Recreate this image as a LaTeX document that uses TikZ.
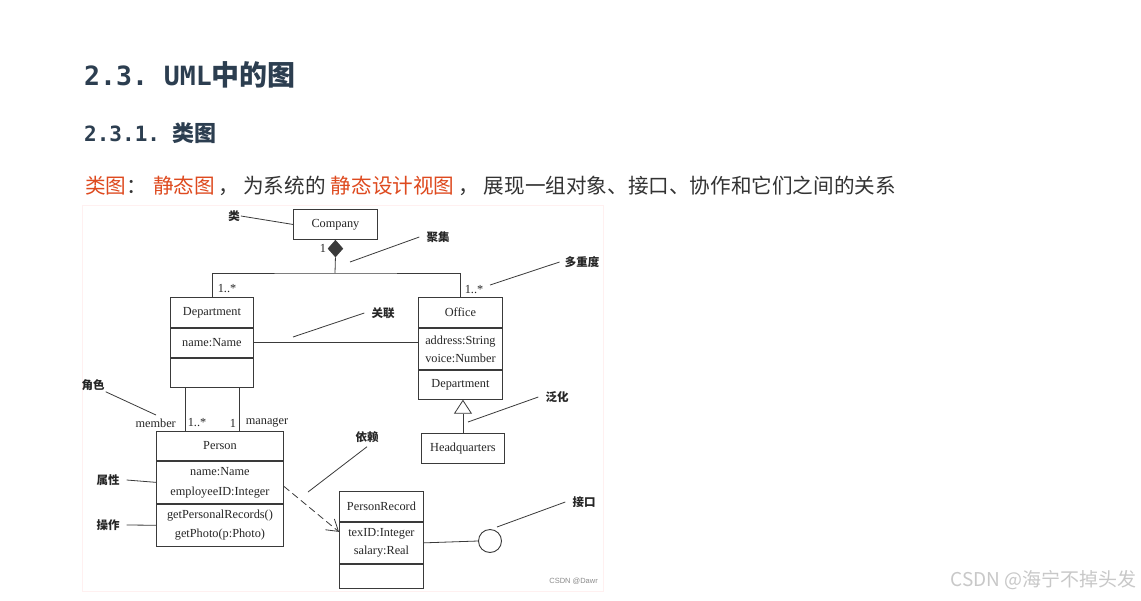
\documentclass[tikz,border=0pt]{standalone}
\usepackage{fontspec}
\setmainfont{Liberation Serif}
\newfontfamily\cjk{Noto Sans CJK SC}
\newfontfamily\hmono{DejaVu Sans Mono}
\newfontfamily\wsans{Liberation Sans}
\usetikzlibrary{arrows.meta, positioning, shapes.geometric}
\definecolor{headc}{HTML}{2C3E50}
\definecolor{redc}{HTML}{DE4A1F}
\definecolor{bodyc}{HTML}{333333}
\definecolor{linec}{HTML}{3A3A3A}
\definecolor{txtc}{HTML}{262626}
\definecolor{markc}{HTML}{C8C8C8}
\newcommand{\umlfont}{\fontsize{12.3}{18}\selectfont}
\newcommand{\notefont}{\cjk\bfseries\fontsize{11.5}{11.5}\selectfont}

\begin{document}
\begin{tikzpicture}[x=1pt, y=-1pt,
  cell/.style={draw=linec, line width=0.9pt, minimum width=#1, inner sep=0pt,
               align=center, font=\umlfont, text=txtc},
  mult/.style={font=\umlfont, text=txtc, inner sep=1pt},
  note/.style={font=\notefont, text=txtc, inner sep=1pt},
  lead/.style={draw=linec, line width=0.8pt}]
  \useasboundingbox[fill=white] (0,0) rectangle (1141,600);

  \node[anchor=base west, inner sep=0pt, text=headc] (h1) at (84,85)
    {{\hmono\bfseries\fontsize{26.5}{26}\selectfont 2.3.\ UML}{\cjk\bfseries\fontsize{28}{28}\selectfont 中的图}};
  \node[anchor=base west, inner sep=0pt, text=headc] (h2) at (84,141)
    {{\hmono\bfseries\fontsize{21}{21}\selectfont 2.3.1.\ }{\cjk\bfseries\fontsize{22}{22}\selectfont 类图}};
  \node[anchor=base west, inner sep=0pt, text=bodyc, font=\cjk\fontsize{20.6}{20}\selectfont] (para) at (85,193)
    {{\color{redc}类图}：\hspace{6pt}{\color{redc}静态图}\hspace{4pt}，\hspace{4pt}为系统的\hspace{5pt}{\color{redc}静态设计视图}\hspace{4pt}，\hspace{5pt}展现一组对象、接口、协作和它们之间的关系};

  \draw[red!6, fill=white, line width=1pt] (82.5,205.5) rectangle (603.5,591.5);

  \node[cell=84, minimum height=30, anchor=north west] (comp) at (293,209) {Company};
  \node[diamond, fill=linec, draw=linec, inner sep=0pt, minimum width=15, minimum height=17, anchor=north] (agg) at (comp.south) {};
  \coordinate (bus) at (335,273);

  \node[cell=83, minimum height=30, anchor=north west] (dept) at (170,297) {Department};
  \node[cell=83, minimum height=29, below=0pt of dept] (deptA) {name:Name};
  \node[cell=83, minimum height=29, below=0pt of deptA] (deptO) {};

  \node[cell=84, minimum height=30, anchor=north west] (off) at (418,297) {Office};
  \node[cell=84, minimum height=41, below=0pt of off] (offA) {address:String\\voice:Number};
  \node[cell=84, minimum height=29, below=0pt of offA] (offO) {Department};

  \node[cell=83, minimum height=30, anchor=north west] (hq) at (421,433) {Headquarters};

  \node[cell=127, minimum height=29, anchor=north west] (pers) at (156,431) {Person};
  \node[cell=127, minimum height=42, below=0pt of pers, font=\fontsize{12.3}{20}\selectfont] (persA) {name:Name\\employeeID:Integer};
  \node[cell=127, minimum height=42, below=0pt of persA, font=\fontsize{12.3}{19}\selectfont] (persO) {getPersonalRecords()\\getPhoto(p:Photo)};

  \node[cell=84, minimum height=30, anchor=north west] (prec) at (339,491) {PersonRecord};
  \node[cell=84, minimum height=41, below=0pt of prec] (precA) {texID:Integer\\salary:Real};
  \node[cell=84, minimum height=24, below=0pt of precA] (precO) {};

  \node[circle, draw=linec, line width=0.9pt, minimum size=23, inner sep=0pt] (iface) at (490,541) {};

  \draw[lead] (agg.south) -- (bus);
  \draw[lead] (dept.north) |- (bus) -| (off.north);
  \draw[lead] (deptA.east) -- (deptA.east -| off.west);
  \draw[lead, -{Triangle[open, length=14pt, width=18pt, fill=white]}] (hq.north) -- (hq.north |- offO.south);
  \draw[lead] ([xshift=-27pt]deptO.south) -- ([xshift=-27pt]deptO.south |- pers.north);
  \draw[lead] ([xshift=27pt]deptO.south) -- ([xshift=27pt]deptO.south |- pers.north);
  \draw[lead, dash pattern=on 7pt off 4pt, -{Straight Barb[length=11pt, width=14pt]}]
    ([yshift=-4pt]persA.east) -- ([yshift=11pt]precA.west);
  \draw[lead] (precA.east) -- (iface.west);

  \node[mult] (mComp) at (323,248) {1};
  \node[mult] (mDept) at (227,289) {1..*};
  \node[mult] (mOff) at (474,290) {1..*};
  \node[mult, anchor=east] (rMember) at (177,423) {member};
  \node[mult] (mMember) at (197,423) {1..*};
  \node[mult] (mManager) at (233,423) {1};
  \node[mult] (rManager) at (267,423) {manager};

  \node[note] (nClass) at (234,216) {类};
  \node[note] (nAgg) at (438,237) {聚集};
  \node[note] (nMult) at (582,262) {多重度};
  \node[note] (nAssoc) at (383,313) {关联};
  \node[note] (nGen) at (557,397) {泛化};
  \node[note] (nDep) at (367,437) {依赖};
  \node[note] (nIface) at (584,502) {接口};
  \node[note] (nRole) at (93,385) {角色};
  \node[note] (nAttr) at (108,480) {属性};
  \node[note] (nOp) at (108,525) {操作};

  \coordinate (eAgg) at (350,262);
  \coordinate (eMult) at (490,285);
  \coordinate (eAssoc) at (293,337);
  \coordinate (eGen) at (468,422);
  \coordinate (eDep) at (308,492);
  \coordinate (eIface) at (497,527);
  \coordinate (eRole) at (156,415);

  \draw[lead] (nClass.east) -- (comp.west);
  \draw[lead] ([xshift=-6pt]nAgg.west) -- (eAgg);
  \draw[lead] ([xshift=-4pt]nMult.west) -- (eMult);
  \draw[lead] ([xshift=-6pt]nAssoc.west) -- (eAssoc);
  \draw[lead] ([xshift=-6pt]nGen.west) -- (eGen);
  \draw[lead] ([yshift=-3pt]nDep.south) -- (eDep);
  \draw[lead] ([xshift=-6pt]nIface.west) -- (eIface);
  \draw[lead] (nRole.south east) -- (eRole);
  \draw[lead] ([xshift=6pt]nAttr.east) -- (persA.west);
  \draw[lead] ([xshift=6pt]nOp.east) -- (persO.west);

  \node[anchor=east, inner sep=0pt, text=black!45, font=\wsans\fontsize{7.5}{7.5}\selectfont] (wm1) at (598,581) {CSDN @Dawr};
  \node[anchor=east, inner sep=0pt, text=markc, font=\cjk\fontsize{19}{19}\selectfont] (wm2) at (1137,580) {CSDN @海宁不掉头发};
\end{tikzpicture}
\end{document}
